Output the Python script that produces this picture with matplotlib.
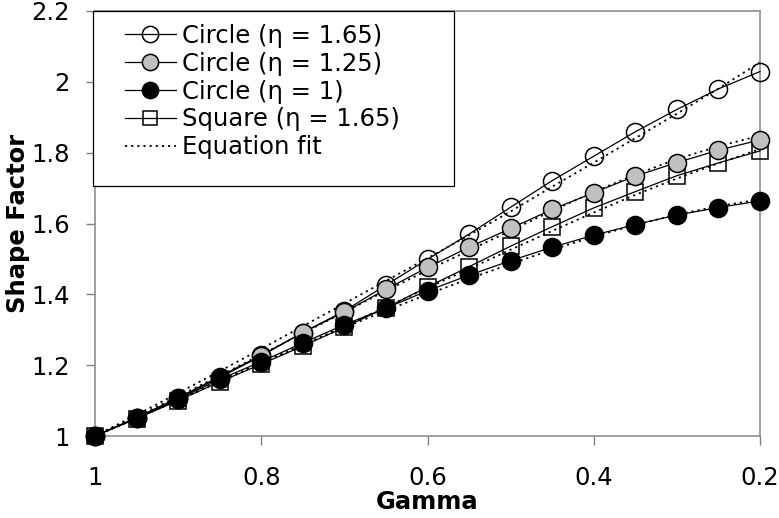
import matplotlib
matplotlib.use("Agg")
import matplotlib.pyplot as plt
from matplotlib.patches import Rectangle
from matplotlib.ticker import FuncFormatter

plt.rcParams["font.family"] = ["DejaVu Sans"]

gamma = [1.0, 0.95, 0.9, 0.85, 0.8, 0.75, 0.7, 0.65, 0.6,
         0.55, 0.5, 0.45, 0.4, 0.35, 0.3, 0.25, 0.2]

circle_165 = [1.0, 1.052, 1.108, 1.168, 1.228, 1.292, 1.353, 1.426, 1.499,
              1.570, 1.646, 1.721, 1.790, 1.859, 1.922, 1.980, 2.029]
circle_125 = [1.0, 1.051, 1.106, 1.165, 1.226, 1.292, 1.350, 1.414, 1.476,
              1.533, 1.586, 1.640, 1.687, 1.734, 1.772, 1.807, 1.836]
circle_1 = [1.0, 1.050, 1.104, 1.160, 1.210, 1.263, 1.314, 1.361, 1.410,
            1.454, 1.495, 1.533, 1.567, 1.597, 1.624, 1.645, 1.664]
square_165 = [1.0, 1.049, 1.100, 1.153, 1.203, 1.254, 1.307, 1.362, 1.421,
              1.478, 1.536, 1.591, 1.644, 1.690, 1.735, 1.771, 1.805]

fit_circle_165 = [1.0, 1.060, 1.121, 1.183, 1.246, 1.310, 1.374, 1.438, 1.502,
                  1.567, 1.634, 1.704, 1.772, 1.841, 1.910, 1.981, 2.055]
fit_circle_125 = [1.0, 1.055, 1.112, 1.170, 1.230, 1.290, 1.350, 1.410, 1.468,
                  1.524, 1.580, 1.636, 1.689, 1.738, 1.782, 1.818, 1.848]
fit_circle_1 = [1.0, 1.052, 1.104, 1.156, 1.207, 1.257, 1.306, 1.354, 1.400,
                1.444, 1.486, 1.526, 1.563, 1.596, 1.625, 1.649, 1.668]
fit_square_165 = [1.0, 1.050, 1.101, 1.153, 1.205, 1.257, 1.310, 1.364, 1.418,
                  1.472, 1.526, 1.579, 1.631, 1.681, 1.727, 1.770, 1.810]

labels = ["Circle (η = 1.65)", "Circle (η = 1.25)", "Circle (η = 1)",
          "Square (η = 1.65)", "Equation fit"]

fig = plt.figure(figsize=(7.79, 5.18), dpi=100)
ax = fig.add_axes([95 / 779, 82 / 518, 665 / 779, 425 / 518])

lw = 0.9
dots = (0, (1.2, 2.2))
# dotted fits first, data lines on top
for fit in (fit_circle_165, fit_circle_125, fit_square_165, fit_circle_1):
    ax.plot(gamma, fit, color="black", ls=dots, lw=1.3, zorder=2, clip_on=False)

h1, = ax.plot(gamma, circle_165, color="black", lw=lw, marker="o", ms=13,
              mfc="none", mec="black", mew=1.1, zorder=3, clip_on=False)
h4, = ax.plot(gamma, square_165, color="black", lw=lw, marker="s", ms=11,
              mfc="none", mec="black", mew=1.1, zorder=4, clip_on=False)
h2, = ax.plot(gamma, circle_125, color="black", lw=lw, marker="o", ms=13,
              mfc="#c0c0c0", mec="black", mew=1.1, zorder=5, clip_on=False)
h3, = ax.plot(gamma, circle_1, color="black", lw=lw, marker="o", ms=13,
              mfc="black", mec="black", mew=1.1, zorder=6, clip_on=False)
h5, = ax.plot([], [], color="black", ls=dots, lw=1.3)

ax.set_xlim(1, 0.2)
ax.set_ylim(1, 2.2)
ax.set_xticks([1, 0.8, 0.6, 0.4, 0.2])
ax.set_yticks([1, 1.2, 1.4, 1.6, 1.8, 2, 2.2])
fmt = FuncFormatter(lambda v, p: "%g" % round(v, 2))
ax.xaxis.set_major_formatter(fmt)
ax.yaxis.set_major_formatter(fmt)
ax.tick_params(axis="both", direction="out", length=6.5, width=1, color="#808080",
               labelsize=17.5)
ax.tick_params(axis="y", pad=11.5)
ax.tick_params(axis="x", pad=15)
for side in ("left", "bottom", "top", "right"):
    ax.spines[side].set_color("#909090")
    ax.spines[side].set_linewidth(1.2)

ax.set_xlabel("Gamma", fontsize=17.5, fontweight="bold", labelpad=0)
ax.set_ylabel("Shape Factor", fontsize=17.5, fontweight="bold", labelpad=1)

# legend box like the original: wide, with extra room on the left and right
ax.add_patch(Rectangle((-0.003, 0.588), 0.543, 0.412, transform=ax.transAxes,
                       facecolor="white", edgecolor="black", lw=0.9,
                       zorder=9, clip_on=False))
leg = ax.legend([h1, h2, h3, h4, h5], labels, loc="upper left",
                bbox_to_anchor=(0.045, 0.97), borderaxespad=0, borderpad=0,
                fontsize=17.5, frameon=False, handlelength=2.1,
                handletextpad=0.25, labelspacing=0.16, markerscale=0.9)
leg.set_zorder(10)

fig.savefig("out.png", dpi=100)
